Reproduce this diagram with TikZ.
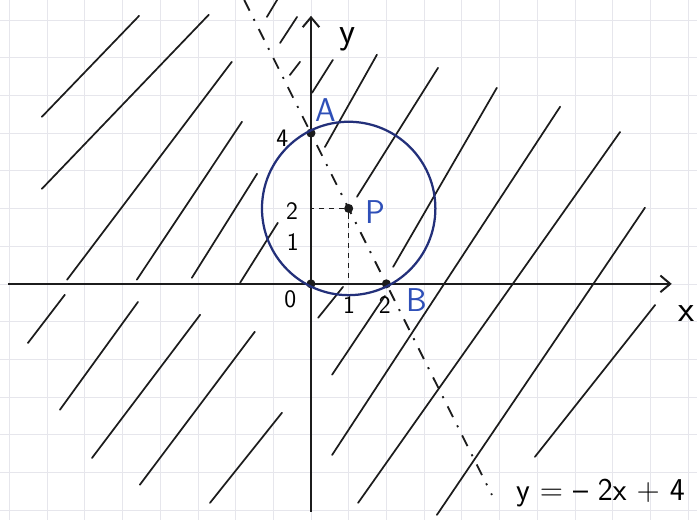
\documentclass[tikz,border=0pt]{standalone}
\usepackage{tikz}
\usetikzlibrary{arrows.meta}
\definecolor{SkGrid}{HTML}{E6E6EC}
\definecolor{SkInk}{HTML}{1C1C1C}
\definecolor{SkCircle}{HTML}{23307A}
\definecolor{SkBlue}{HTML}{2E4FB8}

\begin{document}
\begin{tikzpicture}[font=\sffamily,
  hatch/.style={SkInk,line width=1.3pt,line cap=round},
  dot/.style={circle,fill=SkInk,inner sep=0pt,minimum size=2.4mm},
  axisline/.style={SkInk,line width=1.5pt,-{Straight Barb[length=2.6mm,width=4.4mm]}},
  helpline/.style={SkInk,line width=1.2pt,dash pattern=on 4pt off 3.5pt},
  boundline/.style={SkInk,line width=1.4pt,dash pattern=on 9pt off 7pt on 1.5pt off 7pt},
  bigtext/.style={font=\sffamily\fontsize{28}{30}\selectfont},
  ticktext/.style={font=\sffamily\fontsize{19}{20}\selectfont}]
\useasboundingbox[fill=white] (-8.25,-6.26) rectangle (10.24,7.53);
\draw[SkGrid,line width=0.5pt] (-8.25,-6.26) grid (10.24,7.53);

% hatching of the region
\foreach \xa/\ya/\xb/\yb in {-7.14/4.43/-4.56/7.11, -7.14/2.52/-2.71/7.14,
    -6.47/0.11/-2.10/5.89, -4.62/0.11/-1.83/4.30, -3.16/0.16/-1.43/2.92,
    -1.88/0.03/-0.88/1.62, 0.03/5.07/0.58/5.94, 0.37/3.63/1.75/6.08,
    1.22/2.31/3.37/5.73, 2.18/0.45/4.93/5.20, 0.56/-4.54/6.61/4.70,
    1.25/-5.81/8.20/4.03, 3.34/-6.13/8.86/2.02, 5.94/-4.59/9.13/-0.56,
    0.19/-0.90/0.85/-0.08, 0.56/-2.41/1.96/-0.32,
    -7.51/-1.57/-6.53/-0.29, -6.66/-3.34/-4.59/-0.48, -5.81/-4.62/-2.94/-0.82,
    -4.54/-5.33/-1.49/-1.27, -2.68/-5.81/-0.77/-3.42,
    -1.17/7.08/-0.90/7.53, -0.82/6.39/-0.37/7.08, -0.56/5.54/-0.29/5.89}
  \draw[hatch] (\xa,\ya) -- (\xb,\yb);

% axes
\coordinate (xl) at (-8.04,0);
\coordinate (xr) at (9.57,0);
\coordinate (yb) at (0,-6.05);
\coordinate (yt) at (0,7.11);
\draw[axisline] (xl) -- (xr);
\draw[axisline] (yb) -- (yt);
\node[bigtext] (xlab) at (9.95,-0.80) {x};
\node[bigtext] (ylab) at (0.98,6.50) {y};

% boundary y=-2x+4
\coordinate (ltop) at (-1.77,7.53);
\coordinate (lbot) at (4.80,-5.60);
\draw[boundline] (ltop) -- (lbot);
\node[font=\sffamily\fontsize{24}{26}\selectfont] (eq) at (7.68,-5.55) {y = \textendash\ 2x + 4};

% circle and points
\node[dot] (P) at (1,2) {};
\node[dot] (O) at (0,0) {};
\node[dot] (A) at (0,4) {};
\node[dot] (B) at (2,0) {};
\draw[SkCircle,line width=1.7pt] (P.center) circle (2.3);
\coordinate (Py) at (0,2);
\coordinate (Px) at (1,0);
\draw[helpline] (P) -- (Py);
\draw[helpline] (P) -- (Px);

% labels
\node[SkBlue,font=\sffamily\Huge] (lA) at (0.40,4.62) {A};
\node[SkBlue,font=\sffamily\Huge] (lP) at (1.70,1.91) {P};
\node[SkBlue,font=\sffamily\Huge] (lB) at (2.82,-0.42) {B};
\node[ticktext] (n0) at (-0.55,-0.42) {0};
\node[ticktext] (ny1) at (-0.48,1.11) {1};
\node[ticktext] (ny2) at (-0.50,1.94) {2};
\node[ticktext] (ny4) at (-0.76,3.85) {4};
\node[ticktext] (nx1) at (1.01,-0.56) {1};
\node[ticktext] (nx2) at (1.96,-0.56) {2};
\end{tikzpicture}
\end{document}
